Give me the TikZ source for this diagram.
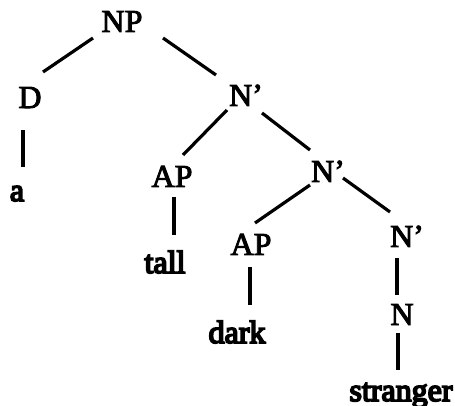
\documentclass[tikz,border=0pt]{standalone}
\usepackage{fontspec}
\setmainfont{Liberation Serif}
\newfontfamily\catfont[FakeBold=3]{Liberation Serif}
\newfontfamily\wordfont[FakeBold=5.5]{Liberation Serif}
\begin{document}
\begin{tikzpicture}[x=0.5pt,y=-0.5pt,
  cat/.style={anchor=base,inner sep=0pt,font=\catfont\fontsize{16}{19}\selectfont},
  word/.style={anchor=base,inner sep=0pt,font=\wordfont\fontsize{16}{19}\selectfont},
  branch/.style={line width=1.6pt}]
\useasboundingbox (0,0) rectangle (455,406);

% categories
\node[cat] (np)  at (122,32)  {NP};
\node[cat] (d)   at (30,108)  {D};
\node[cat] (nb1) at (246,106) {N’};
\node[cat] (ap1) at (172,187) {AP};
\node[cat] (nb2) at (328,182) {N’};
\node[cat] (ap2) at (251,255) {AP};
\node[cat] (nb3) at (407,247) {N’};
\node[cat] (n)   at (402,325) {N};

% words
\node[word] (a)    at (17,201)  {a};
\node[word] (tall) at (165,273) {tall};
\node[word] (dark) at (237,343) {dark};
\node[word] (str)  at (401,401) {stranger};

% branches
\draw[branch] ([shift={(-29,6)}]np.base)  -- ([shift={(13,-36)}]d.base);
\draw[branch] ([shift={(41,6)}]np.base)   -- ([shift={(-30,-31)}]nb1.base);
\draw[branch] ([shift={(-7,22)}]d.base)   -- ([shift={(6,-34)}]a.base);
\draw[branch] ([shift={(-19,4)}]nb1.base) -- ([shift={(11,-32)}]ap1.base);
\draw[branch] ([shift={(16,7)}]nb1.base)  -- ([shift={(-18,-32)}]nb2.base);
\draw[branch] ([shift={(2,10)}]ap1.base)  -- ([shift={(9,-38)}]tall.base);
\draw[branch] ([shift={(-18,3)}]nb2.base) -- ([shift={(4,-32)}]ap2.base);
\draw[branch] ([shift={(15,-4)}]nb2.base) -- ([shift={(-17,-35)}]nb3.base);
\draw[branch] ([shift={(-1,12)}]ap2.base) -- ([shift={(13,-38)}]dark.base);
\draw[branch] ([shift={(-10,11)}]nb3.base) -- ([shift={(-5,-30)}]n.base);
\draw[branch] ([shift={(-4,8)}]n.base)    -- ([shift={(-3,-31)}]str.base);
\end{tikzpicture}
\end{document}
